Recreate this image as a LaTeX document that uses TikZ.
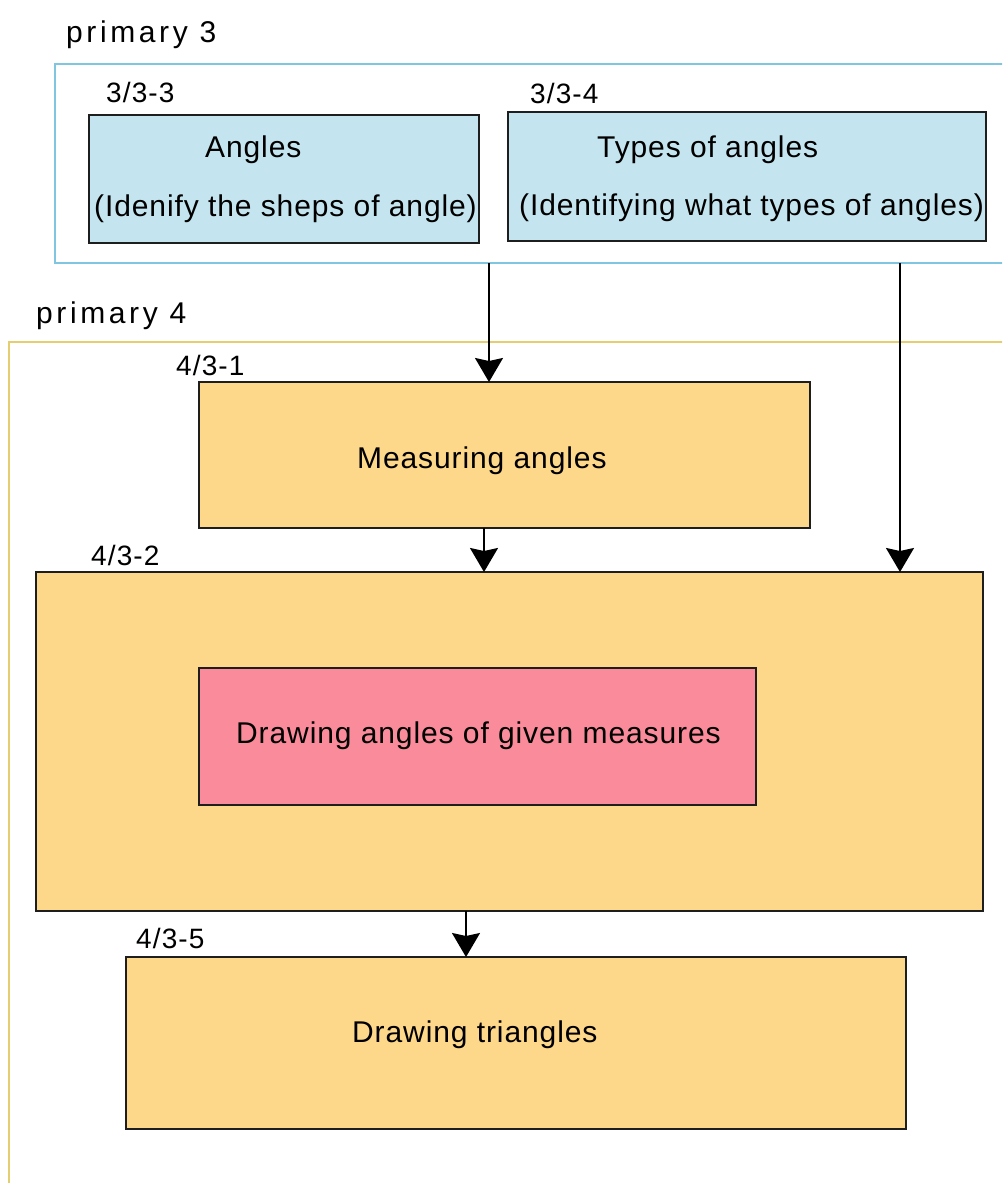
\documentclass[tikz,border=0pt]{standalone}
\usepackage{fontspec}
\setmainfont{Liberation Sans}
\usetikzlibrary{arrows.meta,calc}
\definecolor{frameblue}{RGB}{128,198,224}
\definecolor{boxblue}{RGB}{196,229,239}
\definecolor{frameyellow}{RGB}{228,206,112}
\definecolor{boxorange}{RGB}{253,215,138}
\definecolor{boxpink}{RGB}{249,139,154}
\definecolor{edgedark}{RGB}{30,30,30}
\tikzset{
  box/.style={draw=edgedark, line width=2.2pt, inner sep=0pt, outer sep=0pt, anchor=north west},
  frame/.style={line width=2.2pt, inner sep=0pt, outer sep=0pt, anchor=north west, fill=white},
  txt/.style={inner sep=0pt, anchor=base west, font=\fontsize{30}{36}\selectfont\addfontfeature{LetterSpace=3}},
  head/.style={inner sep=0pt, anchor=base west, font=\fontsize{30}{36}\selectfont\addfontfeature{LetterSpace=12}},
  lbl/.style={inner sep=0pt, anchor=base west, font=\fontsize{28}{34}\selectfont\addfontfeature{LetterSpace=4}},
  arr/.style={draw=black, line width=1.8pt, -{Stealth[length=24pt, width=28pt, inset=3pt]}}
}
\begin{document}
\begin{tikzpicture}[x=1pt,y=-1pt]
\useasboundingbox (0,0) rectangle (1002,1183);
\clip (0,0) rectangle (1002,1183);
% primary 3 group
\node[head] (h3) at (66,42) {primary 3};
\node[frame, draw=frameblue, minimum width=960pt, minimum height=199pt] (frame3) at (55,64) {};
\node[lbl] (l33) at (106,102) {3/3-3};
\node[box, fill=boxblue, minimum width=390pt, minimum height=128pt] (b33) at (89,115) {};
\node[txt] (t33a) at (205,157) {Angles};
\node[txt] (t33b) at (94,216) {(Idenify the sheps of angle)};
\node[lbl] (l34) at (530,103) {3/3-4};
\node[box, fill=boxblue, minimum width=478pt, minimum height=129pt] (b34) at (508,112) {};
\node[txt] (t34a) at (597,157) {Types of angles};
\node[txt] (t34b) at (519,215) {(Identifying what types of angles)};
% primary 4 group
\node[head] (h4) at (36,323) {primary 4};
\node[frame, draw=frameyellow, minimum width=1010pt, minimum height=900pt] (frame4) at (9,342) {};
\node[lbl] (l41) at (176,375) {4/3-1};
\node[box, fill=boxorange, minimum width=611pt, minimum height=146pt] (b41) at (199,382) {};
\node[txt] (t41) at (357,468) {Measuring angles};
\node[lbl] (l42) at (91,565) {4/3-2};
\node[box, fill=boxorange, minimum width=947pt, minimum height=339pt] (b42) at (36,572) {};
\node[box, fill=boxpink, minimum width=557pt, minimum height=137pt] (bpink) at (199,668) {};
\node[txt] (tpink) at (236,743) {Drawing angles of given measures};
\node[lbl] (l45) at (136,948) {4/3-5};
\node[box, fill=boxorange, minimum width=780pt, minimum height=172pt] (b45) at (126,957) {};
\node[txt] (t45) at (352,1042) {Drawing triangles};
% connectors
\coordinate (s1) at ([xshift=434pt]frame3.south west);
\coordinate (s2) at ([xshift=845pt]frame3.south west);
\coordinate (s3) at ([xshift=285pt]b41.south west);
\coordinate (s4) at ([xshift=430pt]b42.south west);
\draw[arr] (s1) -- (s1 |- b41.north);
\draw[arr] (s2) -- (s2 |- b42.north);
\draw[arr] (s3) -- (s3 |- b42.north);
\draw[arr] (s4) -- (s4 |- b45.north);
\end{tikzpicture}
\end{document}
